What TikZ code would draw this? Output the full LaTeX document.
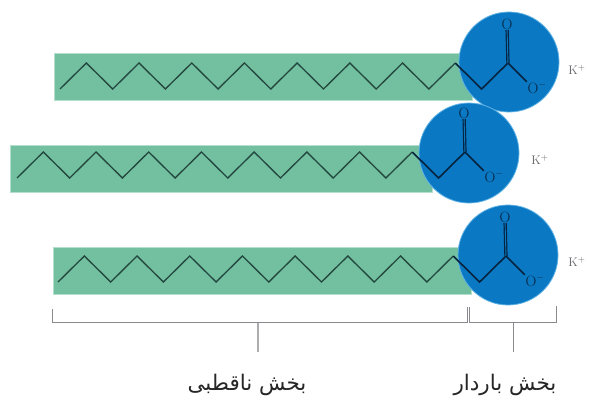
\documentclass[tikz,border=0pt]{standalone}
\usepackage{fontspec}
\usetikzlibrary{calc}
\newfontfamily\arabicfont[Script=Arabic]{DejaVu Sans}
\TeXXeTstate=1
\definecolor{bandgreen}{HTML}{72C09F}
\definecolor{bandedge}{HTML}{B5DECD}
\definecolor{headblue}{HTML}{0A78C3}
\definecolor{headedge}{HTML}{5FB2E4}
\definecolor{tailink}{HTML}{24483F}
\definecolor{headink}{HTML}{06233F}
\definecolor{bracketgray}{HTML}{8A8A8E}
\definecolor{ionsgray}{HTML}{66686B}
\tikzset{
  x=1pt,y=-1pt,
  band/.style={rectangle,fill=bandgreen,draw=bandedge,line width=.7pt,inner sep=0pt,anchor=north west},
  head/.style={circle,fill=headblue,draw=headedge,line width=.8pt,inner sep=0pt,minimum size=100pt},
  tail/.style={draw=tailink,line width=1.35pt,line join=miter},
  bond/.style={draw=headink,line width=1.6pt},
  dbond/.style={draw=headink,double=headblue,double distance=.9pt,line width=1.2pt},
  oxy/.style={text=headink,font=\fontsize{15}{16}\selectfont,inner sep=.6pt},
  ion/.style={text=ionsgray,font=\fontsize{12.5}{13}\selectfont,inner sep=0pt},
  bracket/.style={draw=bracketgray,line width=1pt},
  caption/.style={font=\arabicfont\fontsize{21.5}{24}\selectfont,text=black!85,inner sep=0pt},
}
\begin{document}
\begin{tikzpicture}
\useasboundingbox (0,0) rectangle (589,399);
% molecules: id / chain x / chain valley y / band x / band y / band width / head x / head y / ion x / ion y
\foreach \m/\cx/\vy/\bx/\by/\bw/\hx/\hy/\ix/\iy in {
  a/60/89/54/53/418/509/62/577/70,
  b/17/178/10/145/422/469/153/540/160,
  c/58/282/53/247/418/508/255/577/262}{
  \node[band,minimum width=\bw pt,minimum height=47pt] (band\m) at (\bx,\by) {};
  \node[head] (head\m) at (\hx,\hy) {};
  % carbon backbone
  \foreach \i in {0,...,17}{
    \pgfmathsetmacro{\px}{\cx+26.35*\i}
    \pgfmathsetmacro{\py}{\vy-26*mod(\i,2)}
    \coordinate (c\m\i) at (\px,\py);
  }
  \draw[tail] (c\m0) -- (c\m1) -- (c\m2) -- (c\m3) -- (c\m4) -- (c\m5) -- (c\m6) -- (c\m7) -- (c\m8)
    -- (c\m9) -- (c\m10) -- (c\m11) -- (c\m12) -- (c\m13) -- (c\m14) -- (c\m15);
  \draw[bond,line join=miter] (c\m15) -- (c\m16) -- (c\m17);
  % carboxylate
  \node[oxy] (dbl\m) at ($(c\m17)+(-1,-39)$) {O};
  \node[oxy] (sgl\m) at ($(c\m17)+(25,25)$) {O};
  \node[oxy,inner sep=0pt,font=\fontsize{9}{9}\selectfont] (neg\m) at ($(sgl\m.east)+(3,-3)$) {$-$};
  \draw[dbond] (c\m17) -- (dbl\m);
  \draw[bond] (c\m17) -- (sgl\m);
  \node[ion] (ion\m) at (\ix,\iy) {K$^{+}$};
}
% brackets
\coordinate (l0) at (52,309);
\coordinate (l1) at (52,322.5);
\coordinate (l2) at (467,322.5);
\coordinate (l3) at (467,307);
\coordinate (r0) at (469.5,307);
\coordinate (r1) at (469.5,322.5);
\coordinate (r2) at (556,322.5);
\coordinate (r3) at (556,306);
\draw[bracket] (l0) -- (l1) -- (l2) -- (l3);
\draw[bracket] (r0) -- (r1) -- (r2) -- (r3);
\node[caption] (nonpolar) at (247,385) {\beginR بخش ناقطبی\endR};
\node[caption] (charged) at (505,385) {\beginR بخش باردار\endR};
\coordinate (s1) at (258,322.5);
\coordinate (s2) at (258,352);
\coordinate (t1) at (513,322.5);
\coordinate (t2) at (513,352);
\draw[bracket,draw=bracketgray!70,line width=1.3pt] (s1) -- (s2);
\draw[bracket] (t1) -- (t2);
\end{tikzpicture}
\end{document}
